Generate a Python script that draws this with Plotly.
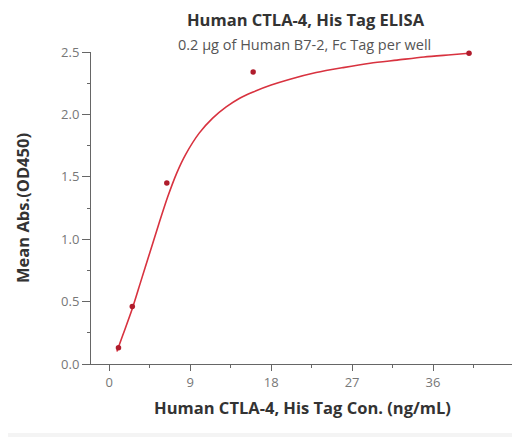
import plotly.graph_objects as go

# Measured points
conc = [1.024, 2.56, 6.4, 16, 40]
od450 = [0.13, 0.46, 1.45, 2.34, 2.49]

# Fitted curve
curve_x = [0.85, 1.5, 2.5, 3.5, 4.5, 5.5, 6.5, 7.5, 8.5, 10, 11.5, 13, 14.5, 16, 18, 20, 23, 26, 29, 32, 35, 38, 40]
curve_y = [0.10, 0.23, 0.43, 0.66, 0.89, 1.12, 1.34, 1.53, 1.68, 1.85, 1.97, 2.06, 2.13, 2.18, 2.235, 2.28, 2.335, 2.375, 2.41, 2.435, 2.46, 2.478, 2.49]

x_ticks = [0, 9, 18, 27, 36, 45]
y_ticks = [0.0, 0.5, 1.0, 1.5, 2.0, 2.5]

title_text = "Human CTLA-4, His Tag ELISA"
subtitle_text = "0.2 µg of Human B7-2, Fc Tag per well"
x_title = "Human CTLA-4, His Tag Con. (ng/mL)"
y_title = "Mean Abs.(OD450)"

FONT = "Open Sans"
RED = "#d8323f"
DARK_RED = "#b01c2c"

fig = go.Figure()
fig.add_trace(go.Scatter(x=curve_x, y=curve_y, mode="lines",
                         line=dict(color=RED, width=1.6, shape="spline", smoothing=0.8),
                         hoverinfo="skip", showlegend=False, cliponaxis=False))
fig.add_trace(go.Scatter(x=conc, y=od450, mode="markers",
                         marker=dict(color=DARK_RED, size=5.5, symbol="circle"),
                         showlegend=False, cliponaxis=False))

# The page has an 8px body margin, so figure pixels = window pixels - 8
OFF = 8
W, H = 520 - OFF, 437 - OFF
L, R, T, B = 83, 6, 44, 73
pw, ph = W - L - R, H - T - B

def wx(px):  # window x pixel -> paper coord
    return (px - OFF - L) / pw

def wy(py):  # window y pixel -> paper coord
    return (H - B - (py - OFF)) / ph

fig.update_layout(
    width=W, height=H,
    margin=dict(l=L, r=R, t=T, b=B),
    paper_bgcolor="#f4f4f4",
    plot_bgcolor="rgba(0,0,0,0)",
    font=dict(family=FONT, color="#444"),
    shapes=[dict(type="rect", xref="paper", yref="paper", layer="below",
                 x0=wx(8), x1=wx(515), y0=wy(433), y1=wy(8),
                 fillcolor="white", line=dict(width=0))],
    annotations=[
        dict(text="<b>" + title_text + "</b>", xref="paper", yref="paper",
             x=wx(306), y=wy(20), xanchor="center", yanchor="middle",
             showarrow=False, font=dict(family=FONT, size=16.5, color="#333")),
        dict(text=subtitle_text, xref="paper", yref="paper",
             x=wx(304), y=wy(44), xanchor="center", yanchor="middle",
             showarrow=False, font=dict(family=FONT, size=14.5, color="#555")),
    ],
    xaxis=dict(
        range=[-2.03, 45], tickmode="array", tickvals=x_ticks, ticktext=[str(v) for v in x_ticks],
        showgrid=False, zeroline=False, showline=True, linecolor="#666", linewidth=1,
        ticks="outside", ticklen=6, tickcolor="#666", tickwidth=1,
        tickfont=dict(family=FONT, size=13, color="#777"),
        minor=dict(dtick=4.5, tick0=0, ticks="outside", ticklen=3, tickcolor="#666", showgrid=False),
        title=dict(text="<b>" + x_title + "</b>", font=dict(family=FONT, size=16.5, color="#333"), standoff=12),
    ),
    yaxis=dict(
        range=[0, 2.5], tickmode="array", tickvals=y_ticks, ticktext=[f"{v:.1f}" for v in y_ticks],
        showgrid=False, zeroline=False, showline=True, linecolor="#666", linewidth=1,
        ticks="outside", ticklen=8, tickcolor="#666", tickwidth=1,
        tickfont=dict(family=FONT, size=13, color="#777"),
        minor=dict(dtick=0.25, tick0=0, ticks="outside", ticklen=3, tickcolor="#666", showgrid=False),
        title=dict(text="<b>" + y_title + "</b>", font=dict(family=FONT, size=16.5, color="#333"), standoff=27),
    ),
)

fig.write_html("out.html")
